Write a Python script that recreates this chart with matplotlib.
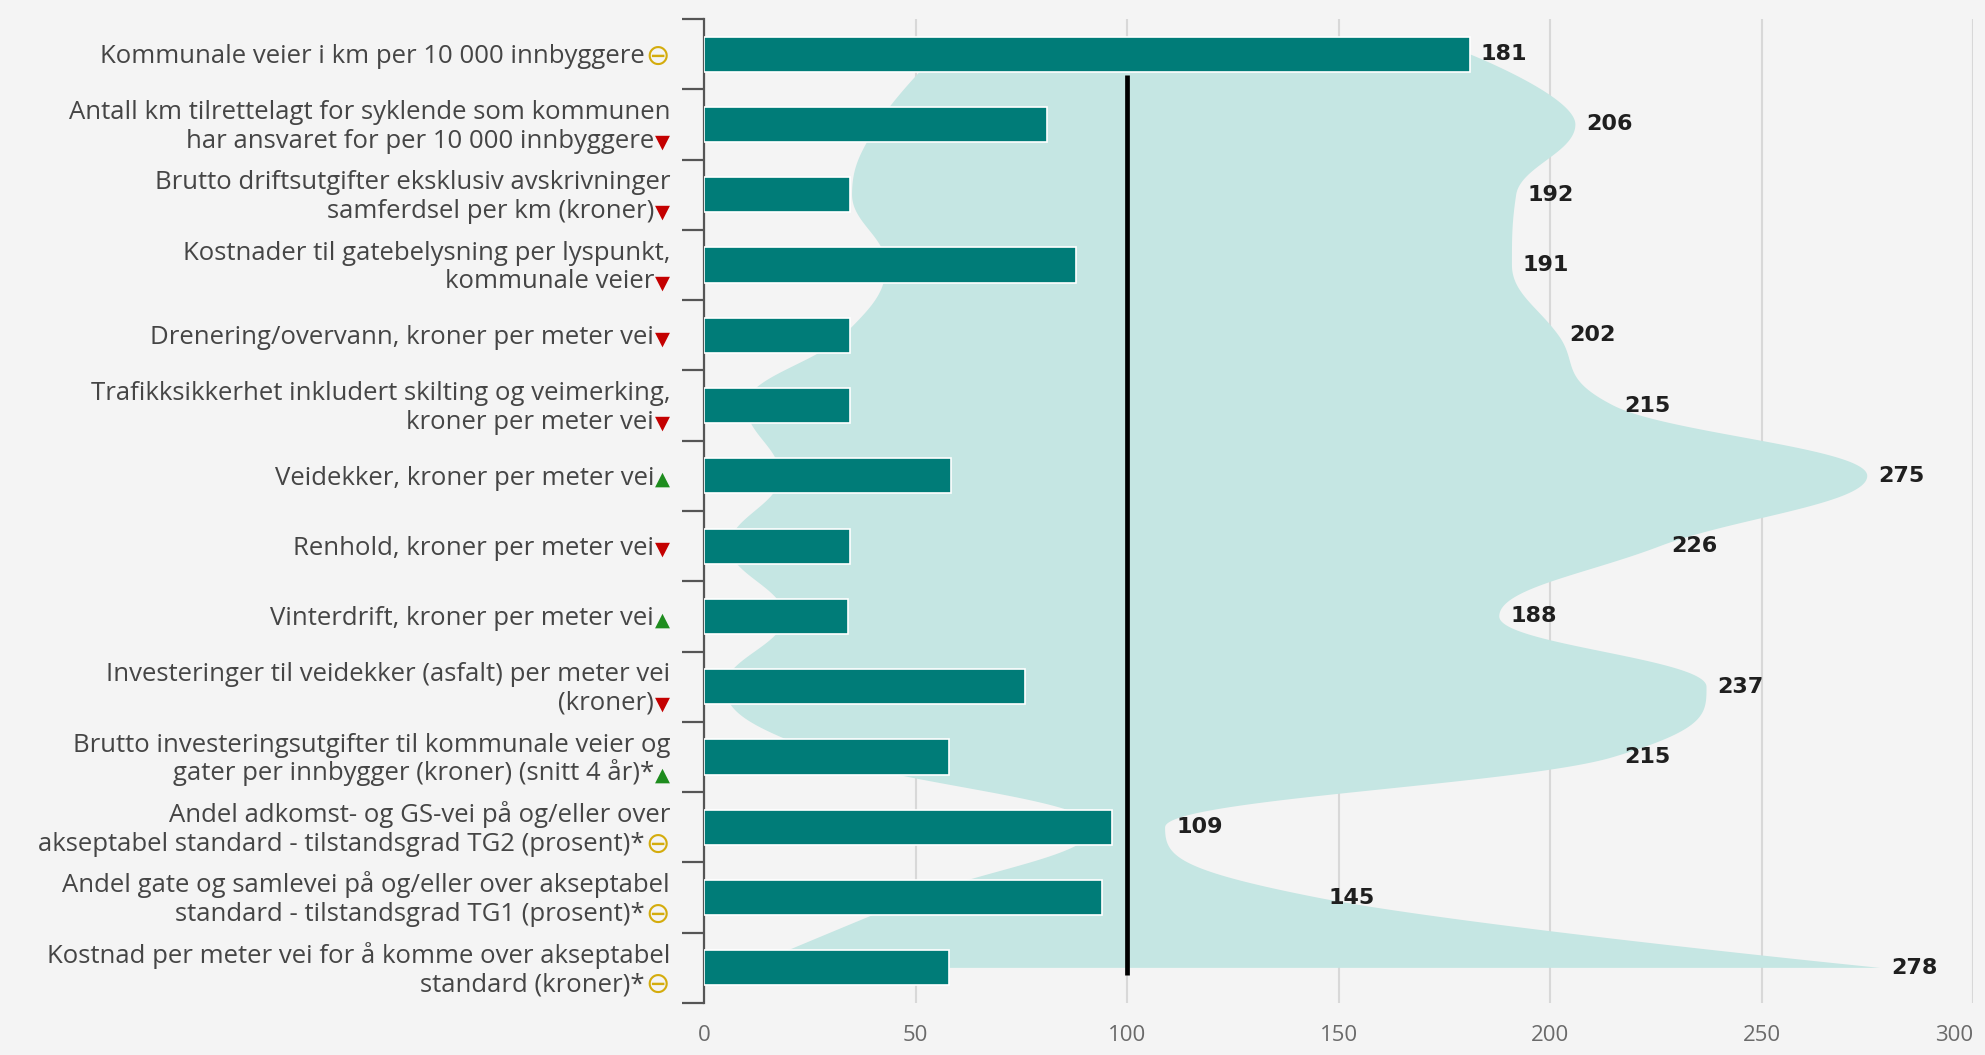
import numpy as np
import matplotlib
matplotlib.use("Agg")
import matplotlib.pyplot as plt
from matplotlib.transforms import offset_copy, blended_transform_factory

# ---------------- data ----------------
labels = [
    "Kommunale veier i km per 10 000 innbyggere",
    "Antall km tilrettelagt for syklende som kommunen\nhar ansvaret for per 10 000 innbyggere",
    "Brutto driftsutgifter eksklusiv avskrivninger\nsamferdsel per km (kroner)",
    "Kostnader til gatebelysning per lyspunkt,\nkommunale veier",
    "Drenering/overvann, kroner per meter vei",
    "Trafikksikkerhet inkludert skilting og veimerking,\nkroner per meter vei",
    "Veidekker, kroner per meter vei",
    "Renhold, kroner per meter vei",
    "Vinterdrift, kroner per meter vei",
    "Investeringer til veidekker (asfalt) per meter vei\n(kroner)",
    "Brutto investeringsutgifter til kommunale veier og\ngater per innbygger (kroner) (snitt 4 år)*",
    "Andel adkomst- og GS-vei på og/eller over\nakseptabel standard - tilstandsgrad TG2 (prosent)*",
    "Andel gate og samlevei på og/eller over akseptabel\nstandard - tilstandsgrad TG1 (prosent)*",
    "Kostnad per meter vei for å komme over akseptabel\nstandard (kroner)*",
]
trend = ["neutral", "down", "down", "down", "down", "down", "up",
         "down", "up", "down", "up", "neutral", "neutral", "neutral"]
bar_values = [181, 81, 34.5, 88, 34.5, 34.5, 58.5, 34.5, 34, 76, 58, 96.5, 94, 58]
band_high = [181, 206, 192, 191, 202, 215, 275, 226, 188, 237, 215, 109, 145, 278]
band_low = [55, 41, 35, 43, 33, 10, 18, 6, 19, 5, 30, 92, 50, 10]
ref_value = 100
xticks = [0, 50, 100, 150, 200, 250, 300]

# ---------------- styles ----------------
BG = "#f4f4f4"
BAR = "#007c78"
BAND = "#c5e6e3"
sym_char = {"neutral": "\u2296", "down": "\u25BC", "up": "\u25B2"}
sym_color = {"neutral": "#d4ac0d", "down": "#c40000", "up": "#1e8c1e"}
sym_size = {"neutral": 21, "down": 14, "up": 14}
LABEL_FONT = ["Open Sans", "DejaVu Sans"]


def spline(vals):
    """Highcharts-style spline through (index, value) points."""
    n = len(vals)
    xs = np.arange(n, dtype=float)
    ys = np.asarray(vals, dtype=float)
    lcx, lcy = xs.copy(), ys.copy()
    rcx, rcy = xs.copy(), ys.copy()
    s, d = 1.5, 2.5
    for i in range(1, n - 1):
        x, y = xs[i], ys[i]
        lx, ly, nx, ny = xs[i - 1], ys[i - 1], xs[i + 1], ys[i + 1]
        a_x, a_y = (s * x + lx) / d, (s * y + ly) / d
        b_x, b_y = (s * x + nx) / d, (s * y + ny) / d
        corr = ((b_y - a_y) * (b_x - x)) / (b_x - a_x) + y - b_y
        a_y += corr
        b_y += corr
        if a_y > ly and a_y > y:
            a_y = max(ly, y); b_y = 2 * y - a_y
        elif a_y < ly and a_y < y:
            a_y = min(ly, y); b_y = 2 * y - a_y
        if b_y > ny and b_y > y:
            b_y = max(ny, y); a_y = 2 * y - b_y
        elif b_y < ny and b_y < y:
            b_y = min(ny, y); a_y = 2 * y - b_y
        lcx[i], lcy[i], rcx[i], rcy[i] = a_x, a_y, b_x, b_y
    t = np.linspace(0, 1, 60)[:, None]
    pts = []
    for i in range(1, n):
        P = np.array([[xs[i - 1], ys[i - 1]], [rcx[i - 1], rcy[i - 1]],
                      [lcx[i], lcy[i]], [xs[i], ys[i]]])
        seg = ((1 - t) ** 3) * P[0] + 3 * ((1 - t) ** 2) * t * P[1] + \
              3 * (1 - t) * t ** 2 * P[2] + t ** 3 * P[3]
        pts.append(seg if i == 1 else seg[1:])
    pts = np.vstack(pts)
    return pts[:, 0], pts[:, 1]


W, H, DPI = 1985, 1055, 100
fig = plt.figure(figsize=(W / DPI, H / DPI), dpi=DPI, facecolor=BG)
ax_left, ax_right, ax_top, ax_bot = 704, 1973, 19, 1003
ax = fig.add_axes([ax_left / W, 1 - ax_bot / H, (ax_right - ax_left) / W, (ax_bot - ax_top) / H])
ax.set_facecolor(BG)

n = len(labels)
rows = np.arange(n)

# band
hy, hx = spline(band_high)
ly, lx = spline(band_low)
ax.fill(np.concatenate([hx, lx[::-1]]), np.concatenate([hy, ly[::-1]]),
        color=BAND, lw=0, zorder=1)

# reference line
ax.plot([ref_value, ref_value], [0.3, n - 1 + 0.1], color="black", lw=3.4,
        solid_capstyle="butt", zorder=2)

# bars
ax.barh(rows, bar_values, height=0.5, color=BAR, edgecolor="white",
        linewidth=1.2, zorder=3)

# value labels at band maximum
for i, v in enumerate(band_high):
    ax.annotate(f"{v}", xy=(v, i), xytext=(11, 0), textcoords="offset pixels",
                ha="left", va="center", fontsize=16, fontweight="bold",
                family="DejaVu Sans", color="#1f1f1f", zorder=5)

ax.set_xlim(0, 300)
ax.set_ylim(n - 0.5, -0.5)
ax.set_xticks(xticks)
ax.set_xticklabels([str(t) for t in xticks])
ax.set_yticks(np.arange(-0.5, n, 1.0))
ax.tick_params(axis="y", length=16, width=1.6, color="#555555", labelleft=False,
               direction="out")
ax.tick_params(axis="x", length=0, pad=16, labelsize=16, labelcolor="#6a6a6a")
for lab in ax.get_xticklabels():
    lab.set_family(LABEL_FONT)
ax.get_xticklabels()[-1].set_horizontalalignment("right")
ax.xaxis.grid(True, color="#d8d8d8", lw=1.5)
ax.set_axisbelow(True)
for sp in ["top", "right", "bottom"]:
    ax.spines[sp].set_visible(False)
ax.spines["left"].set_color("#555555")
ax.spines["left"].set_linewidth(1.6)

# category labels with trend symbols
renderer = fig.canvas.get_renderer()
trans = blended_transform_factory(ax.transAxes, ax.transData)
LINE_PITCH = 28.5
CAP_HALF = 9.0
RIGHT = -34
for i, (lab, tr) in enumerate(zip(labels, trend)):
    lines = lab.split("\n")
    k = len(lines)
    for j, line in enumerate(lines):
        center = (j - (k - 1) / 2) * LINE_PITCH
        dy = -(center + CAP_HALF)
        xoff = RIGHT
        if j == k - 1:
            sdy = dy - (2 if tr == "neutral" else 0)
            st = ax.text(0, i, sym_char[tr], transform=offset_copy(trans, fig=fig, x=RIGHT, y=sdy, units="dots"),
                         ha="right", va="baseline", fontsize=sym_size[tr],
                         family="DejaVu Sans", color=sym_color[tr], clip_on=False)
            w = st.get_window_extent(renderer).width
            xoff = RIGHT - w - 1
        ax.text(0, i, line, transform=offset_copy(trans, fig=fig, x=xoff, y=dy, units="dots"),
                ha="right", va="baseline", fontsize=18.5, family=LABEL_FONT,
                color="#454545", clip_on=False)

fig.savefig("out.png", dpi=DPI, facecolor=BG)
